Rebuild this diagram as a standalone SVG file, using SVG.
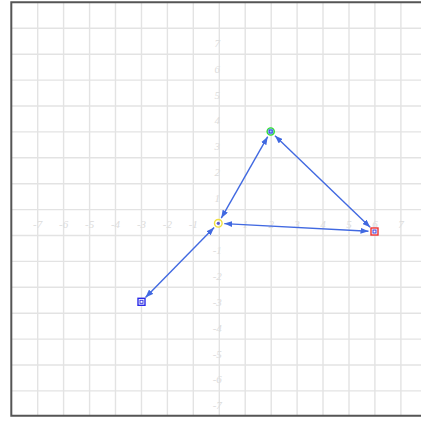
<svg xmlns="http://www.w3.org/2000/svg" width="421" height="422" viewBox="0 0 421 422">
<style>
.grid line{stroke:#e3e3e3;stroke-width:1.4}
.lbl{font-family:"Liberation Serif",serif;font-style:italic;font-size:11px;fill:#dcdcdc;text-anchor:middle}
.edge{stroke:#4169e1;stroke-width:1.4;fill:none;marker-start:url(#ah);marker-end:url(#ah)}
.inner{fill:none;stroke:#3a3ae0;stroke-width:1}
</style>
<defs>
<marker id="ah" viewBox="0 0 8 6" refX="8" refY="3" markerWidth="8" markerHeight="6" markerUnits="userSpaceOnUse" orient="auto-start-reverse">
<path d="M0,0 L8,3 L0,6 Z" fill="#4169e1"/>
</marker>
</defs>
<rect x="0" y="0" width="421" height="422" fill="#fff"/>
<g class="grid">
<line x1="37.7" y1="2" x2="37.7" y2="416"/>
<line x1="63.6" y1="2" x2="63.6" y2="416"/>
<line x1="89.6" y1="2" x2="89.6" y2="416"/>
<line x1="115.5" y1="2" x2="115.5" y2="416"/>
<line x1="141.5" y1="2" x2="141.5" y2="416"/>
<line x1="167.4" y1="2" x2="167.4" y2="416"/>
<line x1="193.3" y1="2" x2="193.3" y2="416"/>
<line x1="219.3" y1="2" x2="219.3" y2="416"/>
<line x1="245.2" y1="2" x2="245.2" y2="416"/>
<line x1="271.2" y1="2" x2="271.2" y2="416"/>
<line x1="297.1" y1="2" x2="297.1" y2="416"/>
<line x1="323" y1="2" x2="323" y2="416"/>
<line x1="349" y1="2" x2="349" y2="416"/>
<line x1="374.9" y1="2" x2="374.9" y2="416"/>
<line x1="400.9" y1="2" x2="400.9" y2="416"/>
<line x1="11" y1="28.3" x2="421" y2="28.3"/>
<line x1="11" y1="54.2" x2="421" y2="54.2"/>
<line x1="11" y1="80.1" x2="421" y2="80.1"/>
<line x1="11" y1="106" x2="421" y2="106"/>
<line x1="11" y1="131.9" x2="421" y2="131.9"/>
<line x1="11" y1="157.8" x2="421" y2="157.8"/>
<line x1="11" y1="183.7" x2="421" y2="183.7"/>
<line x1="11" y1="209.6" x2="421" y2="209.6"/>
<line x1="11" y1="235.5" x2="421" y2="235.5"/>
<line x1="11" y1="261.4" x2="421" y2="261.4"/>
<line x1="11" y1="287.3" x2="421" y2="287.3"/>
<line x1="11" y1="313.2" x2="421" y2="313.2"/>
<line x1="11" y1="339.1" x2="421" y2="339.1"/>
<line x1="11" y1="365" x2="421" y2="365"/>
<line x1="11" y1="390.9" x2="421" y2="390.9"/>
</g>
<g id="axis-labels">
<text class="lbl" x="37.7" y="228">-7</text>
<text class="lbl" x="63.6" y="228">-6</text>
<text class="lbl" x="89.6" y="228">-5</text>
<text class="lbl" x="115.5" y="228">-4</text>
<text class="lbl" x="141.5" y="228">-3</text>
<text class="lbl" x="167.4" y="228">-2</text>
<text class="lbl" x="193.3" y="228">-1</text>
<text class="lbl" x="245.2" y="228">1</text>
<text class="lbl" x="271.2" y="228">2</text>
<text class="lbl" x="297.1" y="228">3</text>
<text class="lbl" x="323" y="228">4</text>
<text class="lbl" x="349" y="228">5</text>
<text class="lbl" x="374.9" y="228">6</text>
<text class="lbl" x="400.9" y="228">7</text>
<text class="lbl" x="217.3" y="46.7">7</text>
<text class="lbl" x="217.3" y="72.6">6</text>
<text class="lbl" x="217.3" y="98.5">5</text>
<text class="lbl" x="217.3" y="124.4">4</text>
<text class="lbl" x="217.3" y="150.3">3</text>
<text class="lbl" x="217.3" y="176.2">2</text>
<text class="lbl" x="217.3" y="202.1">1</text>
<text class="lbl" x="217.3" y="253.9">-1</text>
<text class="lbl" x="217.3" y="279.8">-2</text>
<text class="lbl" x="217.3" y="305.7">-3</text>
<text class="lbl" x="217.3" y="331.6">-4</text>
<text class="lbl" x="217.3" y="357.5">-5</text>
<text class="lbl" x="217.3" y="383.4">-6</text>
<text class="lbl" x="217.3" y="409.3">-7</text>
</g>
<path d="M421,2.3 H11.3 V415.7 H421" fill="none" stroke="#555" stroke-width="2"/>
<g id="connectors">
<line class="edge" x1="267.7" y1="136.7" x2="221.3" y2="218.1"/>
<line class="edge" x1="275" y1="135.7" x2="370.2" y2="227.3"/>
<line class="edge" x1="224.3" y1="223.6" x2="368.5" y2="231.2"/>
<line class="edge" x1="214.1" y1="227.6" x2="145.5" y2="297.4"/>
</g>
<g id="node-green">
<circle cx="270.7" cy="131.5" r="3.6" fill="#9ad0ff" stroke="#33dd33" stroke-width="1.4"/>
<rect x="269.2" y="130" width="3" height="3" class="inner"/>
</g>
<g id="node-yellow">
<circle cx="218.3" cy="223.3" r="3.8" fill="none" stroke="#f0e040" stroke-width="1.4"/>
<circle cx="218.3" cy="223.3" r="1.6" fill="#5a5ad0"/>
</g>
<g id="node-red">
<rect x="371" y="228" width="7" height="7" fill="#fff" stroke="#ee3333" stroke-width="1.4"/>
<rect x="373" y="230" width="3" height="3" class="inner"/>
</g>
<g id="node-blue">
<rect x="138" y="298.3" width="7" height="7" fill="#fff" stroke="#2a2ae8" stroke-width="1.4"/>
<rect x="140" y="300.3" width="3" height="3" class="inner"/>
</g>
</svg>
